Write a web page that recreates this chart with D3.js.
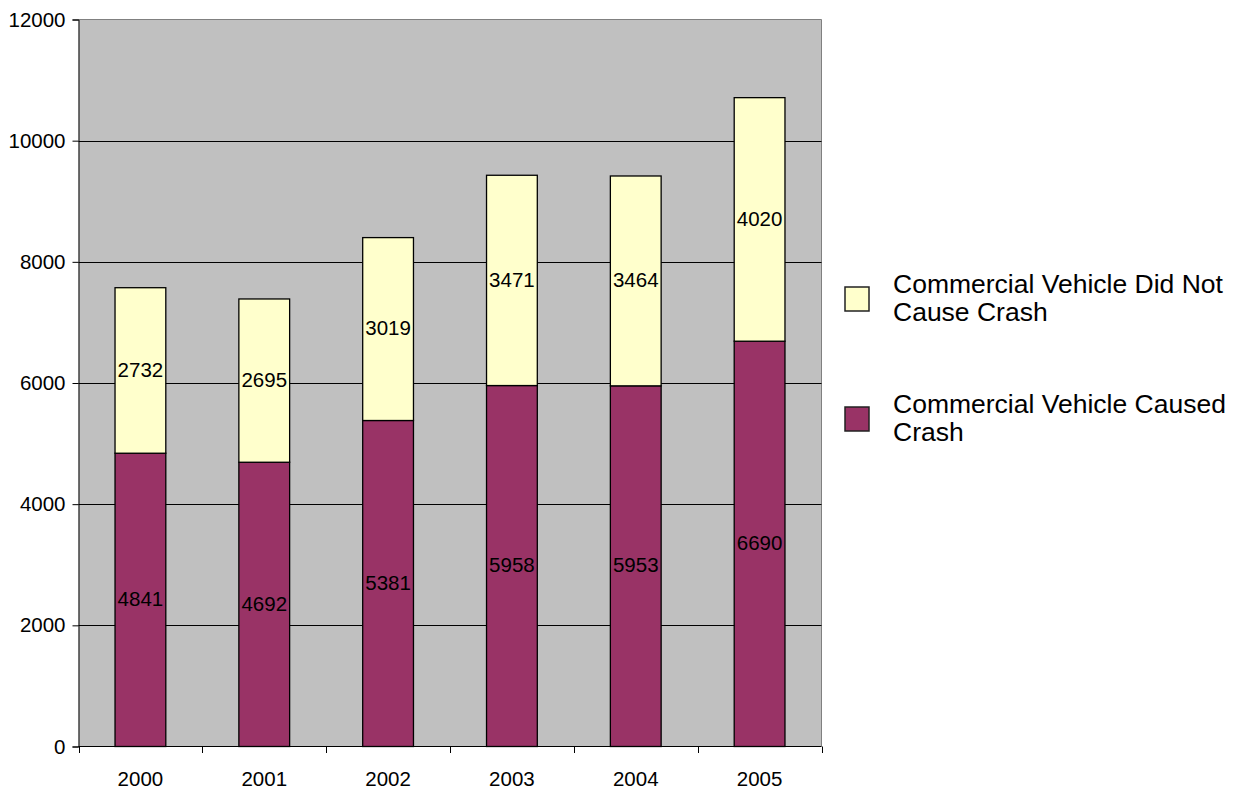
<!DOCTYPE html>
<html>
<head>
<meta charset="utf-8">
<script src="https://cdn.jsdelivr.net/npm/d3@7"></script>
<style>
  html, body { margin: 0; padding: 0; background: #fff; }
  svg { display: block; font-family: "Liberation Sans", Arial, sans-serif; }
</style>
</head>
<body>
<svg id="chart" width="1247" height="792"></svg>
<script>
// Crash counts by year, split by whether the commercial vehicle caused the crash
const years = ["2000", "2001", "2002", "2003", "2004", "2005"];
const causedCrash = [4841, 4692, 5381, 5958, 5953, 6690];
const didNotCauseCrash = [2732, 2695, 3019, 3471, 3464, 4020];
const yTicks = [0, 2000, 4000, 6000, 8000, 10000, 12000];
const seriesNames = ["Commercial Vehicle Caused Crash", "Commercial Vehicle Did Not Cause Crash"];
const legendLines = [["Commercial Vehicle Did Not", "Cause Crash"], ["Commercial Vehicle Caused", "Crash"]];
const seriesColors = ["#993366", "#FFFFCC"];

const svg = d3.select("#chart");
const plot = { left: 78.5, right: 821.5, top: 19.5, bottom: 746.5 };

const x = d3.scaleBand().domain(years).range([plot.left, plot.right]).paddingInner(0.59).paddingOuter(0.295);
const band = d3.scaleBand().domain(years).range([plot.left, plot.right]);
const y = d3.scaleLinear().domain([0, 12000]).range([plot.bottom, plot.top]);

// plot background
svg.append("rect")
  .attr("x", plot.left).attr("y", plot.top)
  .attr("width", plot.right - plot.left).attr("height", plot.bottom - plot.top)
  .attr("fill", "#C0C0C0");

// outer frame on top and right
svg.append("path")
  .attr("d", `M${plot.left},${plot.top}H${plot.right}V${plot.bottom}`)
  .attr("fill", "none").attr("stroke", "#808080").attr("stroke-width", 1);

// horizontal gridlines
svg.append("g").selectAll("line")
  .data(yTicks.filter(t => t > 0 && t < 12000))
  .join("line")
  .attr("x1", plot.left).attr("x2", plot.right)
  .attr("y1", d => Math.round(y(d)) + 0.5).attr("y2", d => Math.round(y(d)) + 0.5)
  .attr("stroke", "#000").attr("stroke-width", 1);

// stacked segments
const stackData = years.map((yr, i) => ({ year: yr, caused: causedCrash[i], notCaused: didNotCauseCrash[i] }));
const stacked = d3.stack().keys(["caused", "notCaused"])(stackData);

const segGroups = svg.append("g").selectAll("g")
  .data(stacked)
  .join("g")
  .attr("fill", (d, i) => seriesColors[i]);

segGroups.selectAll("rect")
  .data(d => d)
  .join("rect")
  .attr("x", d => x(d.data.year))
  .attr("width", x.bandwidth())
  .attr("y", d => y(d[1]))
  .attr("height", d => y(d[0]) - y(d[1]))
  .attr("stroke", "#000").attr("stroke-width", 1.3);

// value labels centred in each segment
segGroups.selectAll("text")
  .data(d => d)
  .join("text")
  .attr("x", d => x(d.data.year) + x.bandwidth() / 2)
  .attr("y", d => (y(d[0]) + y(d[1])) / 2)
  .attr("dy", "0.3em")
  .attr("text-anchor", "middle")
  .attr("fill", "#000")
  .attr("font-size", 20.5)
  .text(d => d[1] - d[0]);

// y axis
const yAxis = d3.axisLeft(y).tickValues(yTicks).tickSize(6).tickPadding(7).tickFormat(d3.format("d"));
const gy = svg.append("g").attr("transform", `translate(${plot.left},0)`).call(yAxis);
gy.select(".domain").attr("stroke", "#000");
gy.selectAll(".tick line").attr("stroke", "#000");
gy.selectAll(".tick text").attr("font-size", 20.5).attr("fill", "#000")
  .attr("font-family", "Liberation Sans, Arial, sans-serif");

// x axis: ticks sit between categories
svg.append("line")
  .attr("x1", plot.left).attr("x2", plot.right)
  .attr("y1", plot.bottom).attr("y2", plot.bottom)
  .attr("stroke", "#000");
const boundaries = years.map(d => band(d)).concat([plot.right]);
svg.append("g").selectAll("line")
  .data(boundaries)
  .join("line")
  .attr("x1", d => Math.round(d) + 0.5).attr("x2", d => Math.round(d) + 0.5)
  .attr("y1", plot.bottom).attr("y2", plot.bottom + 6.5)
  .attr("stroke", "#000");
svg.append("g").selectAll("text")
  .data(years)
  .join("text")
  .attr("x", d => band(d) + band.bandwidth() / 2)
  .attr("y", 786)
  .attr("text-anchor", "middle")
  .attr("font-size", 20.5)
  .attr("fill", "#000")
  .text(d => d);

// legend (stacked top series listed first)
const legendOrder = [1, 0];
const legend = svg.append("g");
legendOrder.forEach((si, k) => {
  const cy = 299 + k * 120;
  legend.append("rect")
    .attr("x", 845).attr("y", cy - 12)
    .attr("width", 24).attr("height", 24)
    .attr("fill", seriesColors[si])
    .attr("stroke", "#222").attr("stroke-width", 1.5);
  const t = legend.append("text")
    .attr("x", 893).attr("y", cy - 6)
    .attr("font-size", 26.5)
    .attr("fill", "#000");
  legendLines[k].forEach((line, j) => {
    t.append("tspan").attr("x", 893).attr("dy", j === 0 ? 0 : 28).text(line);
  });
});
</script>
</body>
</html>
